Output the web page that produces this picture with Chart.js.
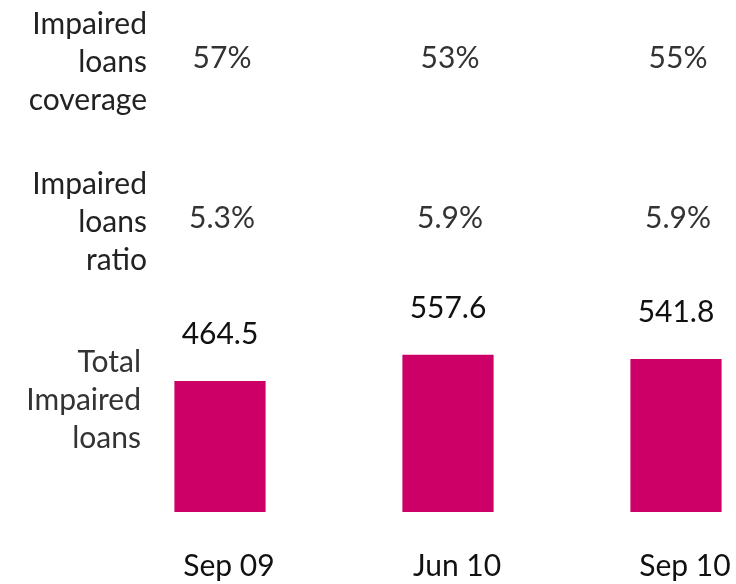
<!DOCTYPE html>
<html>
<head>
<meta charset="utf-8">
<script src="https://cdn.jsdelivr.net/npm/chart.js@4"></script>
<style>
  html, body { margin: 0; padding: 0; background: #fff; }
  #wrap { width: 736px; height: 584px; position: relative; }
</style>
</head>
<body>
<div id="wrap"><canvas id="chart"></canvas></div>
<script>
// ── Data ────────────────────────────────────────────────────────────────────
const periods        = ['Sep 09', 'Jun 10', 'Sep 10'];
const impairedTotal  = [464.5, 557.6, 541.8];
const coverageLabels = ['57%', '53%', '55%'];
const ratioLabels    = ['5.3%', '5.9%', '5.9%'];

const rowTitles = {
  coverage: ['Impaired', 'loans', 'coverage'],
  ratio   : ['Impaired', 'loans', 'ratio'],
  total   : ['Total', 'Impaired', 'loans'],
};

const FONT     = 'Lato, "Open Sans", sans-serif';
const BAR_PINK = '#cc0066';

// ── Text rows drawn around the bars ─────────────────────────────────────────
const tablePlugin = {
  id: 'tableRows',
  afterDraw(chart) {
    const { ctx } = chart;
    const x = chart.scales.x;
    ctx.save();
    ctx.font = `30px ${FONT}`;

    // row titles on the left
    ctx.fillStyle = '#222';
    ctx.textAlign = 'right';
    ctx.textBaseline = 'alphabetic';
    rowTitles.coverage.forEach((t, i) => ctx.fillText(t, 147, 34 + i * 38));
    rowTitles.ratio.forEach((t, i) => ctx.fillText(t, 147, 194 + i * 38));
    ctx.fillStyle = '#333';
    rowTitles.total.forEach((t, i) => ctx.fillText(t, 141, 372 + i * 38));

    // percentage rows
    ctx.textAlign = 'center';
    ctx.fillStyle = '#333';
    coverageLabels.forEach((t, i) => ctx.fillText(t, x.getPixelForValue(i) + 2, 68));
    ratioLabels.forEach((t, i) => ctx.fillText(t, x.getPixelForValue(i) + 2, 228));

    // bar values
    ctx.fillStyle = '#111';
    const meta = chart.getDatasetMeta(0);
    meta.data.forEach((bar, i) => {
      ctx.fillText(impairedTotal[i].toFixed(1), bar.x, bar.y - 37);
    });
    ctx.restore();
  },
};

// ── Chart ───────────────────────────────────────────────────────────────────
new Chart(document.getElementById('chart'), {
  type: 'bar',
  data: {
    labels: periods,
    datasets: [{
      data              : impairedTotal,
      backgroundColor   : BAR_PINK,
      borderWidth       : 0,
      categoryPercentage: 0.8,
      barPercentage     : 0.5,
      clip              : false,
    }],
  },
  options: {
    responsive         : true,
    maintainAspectRatio: false,
    animation          : false,
    layout: { padding: { left: 220, right: 60, top: 4, bottom: 0 } },
    plugins: {
      legend : { display: false },
      tooltip: { enabled: false },
    },
    scales: {
      x: {
        offset: false,
        grid  : { display: false, drawTicks: false },
        border: { display: false },
        ticks : {
          color      : '#111',
          font       : { family: FONT, size: 30 },
          padding    : 36,
          labelOffset: 9,
          maxRotation: 0,
        },
        // keep the axis band fixed so the bars sit where the reference has them
        afterFit(scale) {
          scale.height       = 72;
          scale.paddingLeft  = 0;
          scale.paddingRight = 0;
        },
      },
      y: {
        display: false,
        min    : 0,
        max    : 1800,
      },
    },
  },
  plugins: [tablePlugin],
});
</script>
</body>
</html>
